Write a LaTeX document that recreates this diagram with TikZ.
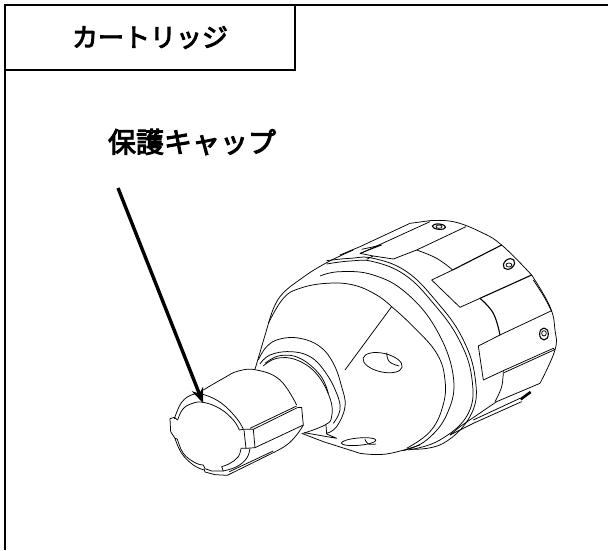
\documentclass[tikz,border=0pt]{standalone}
\usepackage{fontspec}
\usetikzlibrary{arrows.meta}
\newfontfamily\jpfont[FakeBold=3.5]{Noto Sans CJK JP}

\tikzset{
	frameline/.style={line width=1.4pt},
	titlebox/.style={draw, line width=1.1pt, minimum width=290pt, minimum height=65pt, font=\jpfont\fontsize{26}{26}\selectfont},
	capfont/.style={font=\jpfont\fontsize{28}{28}\selectfont},
	part/.style={line width=.75pt, line join=round},
	thickpart/.style={line width=1.1pt, line join=round},
	pointer/.style={line width=3.4pt, -{Stealth[length=15pt,width=12pt]}}
}

\begin{document}
\begin{tikzpicture}[x=1pt,y=-1pt]
	\useasboundingbox (0,0) rectangle (608,550);
	\draw[frameline] (608,5) -- (5,5) -- (5,550);
	\node[titlebox] (title) at (150,37.5) {カートリッジ};
	\node[capfont] (caplabel) at (192,142) {保護キャップ};

	% cap
	\begin{scope}[shift={(140,370)},x=.3333pt,y=-.3333pt,tension=.7]
		\draw[part] plot[smooth] coordinates {(103,147) (125,97) (160,73) (195,75) (245,100) (290,145) (310,178)};
		\draw[part] plot[smooth] coordinates {(113,150) (128,118) (155,101) (190,97) (240,116) (280,150) (298,180)};
		\draw[part] (113,150) -- (103,142) -- (90,146) -- (92,185) -- (105,205) -- (112,207);
		\draw[part] plot[smooth] coordinates {(112,207) (130,250) (165,278) (190,285)};
		\draw[part] plot[smooth] coordinates {(105,205) (125,250) (160,285) (192,300)};
		\draw[part] (190,285) -- (195,296) -- (215,303) -- (250,303) -- (245,290);
		\draw[part] (192,296) -- (195,306) -- (225,314) -- (262,316);
		\draw[part] plot[smooth] coordinates {(245,290) (270,280) (295,260) (303,235)};
		\draw[part] plot[smooth] coordinates {(250,303) (290,290) (320,265) (330,235)};
		\draw[part] (303,235) -- (318,235) -- (345,233);
		\draw[part] (298,180) -- (310,178) -- (340,178) -- (345,233);
		\draw[part] (312,180) -- (318,235);
		\draw[part] (340,178) -- (472,113) -- (485,112) -- (490,165) -- (345,233);
		\draw[part] (330,175) -- (470,108);
		\draw[part] plot[smooth] coordinates {(190,60) (250,25) (295,3) (350,0) (420,30) (470,105)};
		\draw[part] (262,316) -- (400,248);
		\draw[part] (268,305) -- (400,243);
		\draw[part] plot[smooth] coordinates {(400,248) (440,225) (470,195) (490,165)};
	\end{scope}

	% neck and body
	\begin{scope}[shift={(120,190)},x=.3333pt,y=-.3333pt,tension=.7]
		\draw[part] (405,538) -- (450,385);
		\draw[part] plot[smooth] coordinates {(450,385) (480,320) (545,265) (620,218) (700,180)};
		\draw[part] plot[smooth] coordinates {(445,400) (490,325) (540,295) (620,280) (700,285) (770,315) (815,350)};
		\draw[part] (815,350) -- (675,540);
		\draw[part] plot[smooth] coordinates {(415,510) (440,470) (480,447) (540,445) (600,470) (640,520) (665,590) (675,650) (650,710) (620,730)};
		\draw[part] plot[smooth] coordinates {(420,522) (450,495) (510,485) (570,500) (615,545) (650,610) (660,660) (640,700)};
		\draw[part] plot[smooth] coordinates {(430,528) (470,505) (530,510) (590,552) (630,625) (635,680) (615,705) (550,730)};
		\draw[part] plot[smooth] coordinates {(435,520) (480,497) (540,505) (600,555) (625,610)};
		\draw[part] (618,705) -- (620,732);
		\draw[part] (545,730) -- (610,755) -- (720,790);
		\draw[part] (552,728) -- (650,745) -- (620,732);
		\draw[part] plot[smooth] coordinates {(720,790) (800,792) (900,765)};
		% holes
		\draw[part] (788,518) ellipse[x radius=60,y radius=28,rotate=-13];
		\draw[part] plot[smooth] coordinates {(800,488) (808,515) (838,528)};
		\draw[part] (716,755) ellipse[x radius=52,y radius=11,rotate=5];
		\draw[part] plot[smooth] coordinates {(735,748) (745,762) (768,762)};
	\end{scope}

	% rings and outer shell
	\begin{scope}[shift={(340,190)},x=.3333pt,y=-.3333pt,tension=.7]
		\draw[part] plot[smooth] coordinates {(-40,212) (30,205) (100,205) (200,245) (290,335) (365,440) (405,560) (395,670) (310,760) (210,778)};
		\draw[part] plot[smooth] coordinates {(-40,222) (30,213) (100,215) (195,255) (280,340) (355,445) (395,560) (385,670) (300,750) (205,780)};
		\draw[part] plot[smooth] coordinates {(-60,258) (0,245) (100,255) (200,310) (290,420) (340,560) (322,670) (260,750) (190,782)};
		\draw[part] plot[smooth] coordinates {(155,350) (220,410) (290,490) (315,570) (308,650) (270,725) (200,775)};
		\draw[part] plot[smooth] coordinates {(575,255) (630,350) (645,420) (645,480) (600,580)};
		\draw[part] plot[smooth] coordinates {(270,92) (340,95) (420,125) (485,165) (575,255)};
		\draw[part] plot[smooth] coordinates {(580,270) (615,325) (635,365)};
		\draw[part] (0,195) -- (60,170) -- (210,100) -- (270,92);
		\draw[part] (62,190) -- (270,95);
		\draw[part] (65,178) -- (125,165) -- (60,190) -- (100,198) -- (80,208);
		\draw[part] (100,198) -- (160,207) -- (230,180) -- (378,110);
		\draw[part] plot[smooth] coordinates {(230,180) (290,205) (338,240)};
		\draw[thickpart] (338,240) -- (485,165);
		\draw[part] (338,240) -- (275,270) -- (360,352) -- (420,325);
		\draw[thickpart] (420,325) -- (575,255);
		\draw[thickpart] plot[smooth] coordinates {(420,325) (460,370) (480,435)};
		\draw[part] (480,435) -- (635,362);
		\draw[part] (480,435) -- (415,468) -- (430,570) -- (490,542) -- (640,475) -- (645,480);
		\draw[part] (492,548) -- (642,480);
		\draw[part] plot[smooth] coordinates {(490,542) (485,590) (465,635)};
		\draw[part] (600,580) -- (470,635) -- (360,710) -- (330,735);
		\draw[part] (545,635) -- (400,700) -- (330,735);
		\draw[part] (540,625) -- (400,690);
		\draw[thickpart, line width=2.6pt] (542,628) -- (572,606);
		% screws
		\draw[thickpart] (297,110) ellipse[x radius=20,y radius=8,rotate=-5];
		\draw[part] (297,110) ellipse[x radius=9,y radius=5];
		\draw[thickpart] (507,222) ellipse[x radius=19,y radius=14,rotate=40];
		\draw[part] (507,225) ellipse[x radius=9,y radius=6];
		\draw[thickpart] (612,432) ellipse[x radius=13,y radius=18];
		\draw[part] (612,430) ellipse[x radius=7,y radius=8];
	\end{scope}

	\coordinate (arrowstart) at (118,188);
	\coordinate (arrowend) at (203,403);
	\draw[pointer] (arrowstart) -- (arrowend);
\end{tikzpicture}
\end{document}
